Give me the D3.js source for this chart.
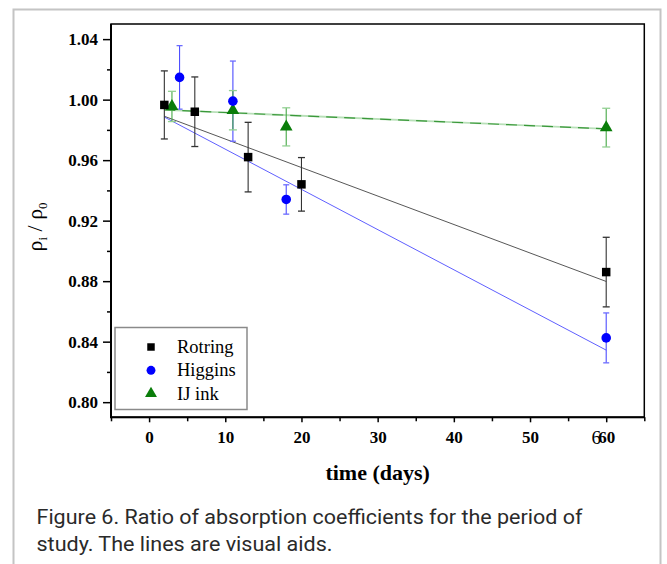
<!DOCTYPE html>
<html>
<head>
<meta charset="utf-8">
<script src="https://cdn.jsdelivr.net/npm/d3@7"></script>
<style>
  body { margin: 0; background: #fff; }
  svg { display: block; }
</style>
</head>
<body>
<div id="chart"></div>
<script>
// data
const rotringDays = [2, 6, 13, 20, 60];
const rotringVals = [0.9965, 0.992, 0.962, 0.944, 0.886];
const rotringErr = [0.0225, 0.023, 0.023, 0.0177, 0.023];

const higginsDays = [4, 11, 18, 60];
const higginsVals = [1.0147, 0.999, 0.934, 0.8425];
const higginsErr = [0.021, 0.0265, 0.0097, 0.0165];

const ijDays = [3, 11, 18, 60];
const ijVals = [0.9955, 0.993, 0.982, 0.9815];
const ijErr = [0.010, 0.013, 0.0126, 0.0128];

// visual aid lines (end points)
const fitDays = [2, 60];
const rotringFit = [0.989, 0.8798];
const higginsFit = [0.9885, 0.8344];
const ijFit = [0.9932, 0.9807];

const xTicks = [0, 10, 20, 30, 40, 50, 60];
const xMinor = [-5, 5, 15, 25, 35, 45, 55, 65];
const yTicks = [0.80, 0.84, 0.88, 0.92, 0.96, 1.00, 1.04];
const yMinor = [0.82, 0.86, 0.90, 0.94, 0.98, 1.02];

const W = 667, H = 564;
const box = { left: 111, right: 644.3, top: 24, bottom: 417.3 };

const svg = d3.select("#chart").append("svg")
  .attr("width", W)
  .attr("height", H);

// outer frame
svg.append("rect")
  .attr("x", 13.5).attr("y", 9.5)
  .attr("width", 647).attr("height", 570)
  .attr("fill", "none")
  .attr("stroke", "#c4c4c4")
  .attr("stroke-width", 2);

const x = d3.scaleLinear().domain([-5, 65]).range([box.left, box.right]);
const y = d3.scaleLinear().domain([0.79, 1.05]).range([box.bottom, box.top]);

const serif = "'Liberation Serif', 'Times New Roman', serif";

// *axes
svg.append("g")
  .attr("transform", "translate(0," + box.bottom + ")")
  .call(d3.axisBottom(x).tickValues(xTicks).tickSize(5).tickPadding(9).tickFormat(d3.format("d")));
svg.append("g")
  .attr("transform", "translate(0," + box.bottom + ")")
  .call(d3.axisBottom(x).tickValues(xMinor).tickSize(4).tickFormat(""));

svg.append("g")
  .attr("transform", "translate(" + box.left + ",0)")
  .call(d3.axisLeft(y).tickValues(yTicks).tickSize(8).tickPadding(5).tickFormat(d3.format(".2f")));
svg.append("g")
  .attr("transform", "translate(" + box.left + ",0)")
  .call(d3.axisLeft(y).tickValues(yMinor).tickSize(4).tickFormat(""));

svg.selectAll(".domain").remove();
svg.selectAll(".tick line").attr("stroke", "#000").attr("stroke-width", 1.5);
svg.selectAll(".tick text")
  .attr("fill", "#000")
  .style("font-family", serif)
  .style("font-weight", "bold")
  .style("font-size", "17px");

// stray glyph next to the 60 label in the original
svg.append("text")
  .attr("x", x(60) - 10)
  .attr("y", box.bottom + 27)
  .attr("text-anchor", "middle")
  .style("font-family", serif)
  .style("font-size", "19px")
  .text("6");

// plot box
svg.append("rect")
  .attr("x", box.left).attr("y", box.top)
  .attr("width", box.right - box.left).attr("height", box.bottom - box.top)
  .attr("fill", "none").attr("stroke", "#000").attr("stroke-width", 1.5);
svg.append("path")
  .attr("d", `M${box.left},${box.top}V${box.bottom}H${box.right}`)
  .attr("fill", "none").attr("stroke", "#000").attr("stroke-width", 2);

// axis titles
svg.append("text")
  .attr("x", (box.left + box.right) / 2)
  .attr("y", 480)
  .attr("text-anchor", "middle")
  .style("font-family", serif)
  .style("font-weight", "bold")
  .style("font-size", "22px")
  .text("time (days)");

const yl = svg.append("text")
  .attr("transform", "translate(42," + 227 + ") rotate(-90)")
  .attr("text-anchor", "middle")
  .style("font-family", serif)
  .style("font-size", "22px");
yl.append("tspan").text("\u03C1");
yl.append("tspan").attr("dy", 5).style("font-size", "13px").text("i");
yl.append("tspan").attr("dy", -5).text(" / \u03C1");
yl.append("tspan").attr("dy", 5).style("font-size", "13px").text("0");

// *visual aid lines
const line = d3.line().x((d) => x(d[0])).y((d) => y(d[1]));
const pairs = (vals) => fitDays.map((d, i) => [d, vals[i]]);

svg.append("path").attr("d", line(pairs(ijFit)))
  .attr("fill", "none").attr("stroke", "#b8e0b8").attr("stroke-width", 1.8);
svg.append("path").attr("d", line(pairs(ijFit)))
  .attr("fill", "none").attr("stroke", "#3a983a").attr("stroke-width", 1.2)
  .attr("stroke-dasharray", "11,7");
svg.append("path").attr("d", line(pairs(rotringFit)))
  .attr("fill", "none").attr("stroke", "#444").attr("stroke-width", 0.9);
svg.append("path").attr("d", line(pairs(higginsFit)))
  .attr("fill", "none").attr("stroke", "#4d4dff").attr("stroke-width", 0.9);

// *error bars
function errorBars(days, vals, errs, color, capColor, capW) {
  const g = svg.append("g");
  days.forEach((d, i) => {
    const cx = x(d);
    const top = y(vals[i] + errs[i]);
    const bot = y(vals[i] - errs[i]);
    g.append("line").attr("x1", cx).attr("x2", cx).attr("y1", top).attr("y2", bot)
      .attr("stroke", color).attr("stroke-width", 1.1);
    [top, bot].forEach((yy) => {
      g.append("line").attr("x1", cx - capW).attr("x2", cx + capW).attr("y1", yy).attr("y2", yy)
        .attr("stroke", capColor).attr("stroke-width", 1.3);
    });
  });
}
errorBars(rotringDays, rotringVals, rotringErr, "#333", "#333", 3.5);
errorBars(higginsDays, higginsVals, higginsErr, "#4d4dff", "#6b6bff", 3);
errorBars(ijDays, ijVals, ijErr, "#45a845", "#92d092", 4);

// *markers
const sq = d3.symbol().type(d3.symbolSquare).size(72);
const ci = d3.symbol().type(d3.symbolCircle).size(72);
const tr = d3.symbol().type(d3.symbolTriangle).size(70);

function markers(days, vals, sym, color) {
  svg.append("g").selectAll("path")
    .data(days)
    .join("path")
    .attr("transform", (d, i) => "translate(" + x(d) + "," + y(vals[i]) + ")")
    .attr("d", sym)
    .attr("fill", color);
}
markers(ijDays, ijVals, tr, "#0a7d0a");
markers(rotringDays, rotringVals, sq, "#000");
markers(higginsDays, higginsVals, ci, "#0000ff");

// *legend
const legend = svg.append("g");
legend.append("rect")
  .attr("x", 115).attr("y", 327.5)
  .attr("width", 132).attr("height", 82)
  .attr("fill", "#fff").attr("stroke", "#8a8a8a").attr("stroke-width", 1.5);

const legendItems = [
  { name: "Rotring", sym: d3.symbol().type(d3.symbolSquare).size(56), color: "#000" },
  { name: "Higgins", sym: d3.symbol().type(d3.symbolCircle).size(62), color: "#0000ff" },
  { name: "IJ ink", sym: d3.symbol().type(d3.symbolTriangle).size(62), color: "#0a7d0a" },
];
legendItems.forEach((it, i) => {
  const cy = 347 + i * 23.3;
  legend.append("path")
    .attr("transform", "translate(151," + cy + ")")
    .attr("d", it.sym)
    .attr("fill", it.color);
  legend.append("text")
    .attr("x", 177)
    .attr("y", cy + 6)
    .style("font-family", serif)
    .style("font-size", "18.5px")
    .text(it.name);
});

// *caption
const captionLines = [
  "Figure 6. Ratio of absorption coefficients for the period of",
  "study. The lines are visual aids.",
];
const captionWidths = [546, 296];
captionLines.forEach((t, i) => {
  svg.append("text")
    .attr("x", 36.5)
    .attr("y", 524 + i * 27)
    .attr("textLength", captionWidths[i])
    .attr("lengthAdjust", "spacingAndGlyphs")
    .attr("fill", "#2a2a2a")
    .style("font-family", "Roboto, 'Noto Sans', sans-serif")
    .style("font-size", "20px")
    .style("font-weight", 400)
    .text(t);
});
</script>
</body>
</html>
